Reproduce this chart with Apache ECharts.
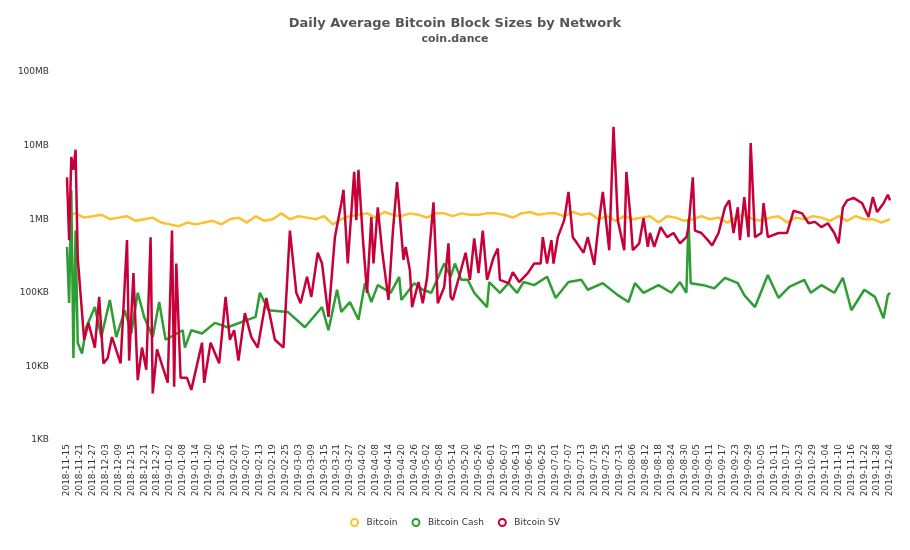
<!DOCTYPE html>
<html>
<head>
    <meta charset="utf-8">
    <title></title>
    <script src="https://cdn.jsdelivr.net/npm/echarts@6/dist/echarts.min.js"></script>
    <style>
        body{ margin: 0; }
        #chart{ width: 910px; height: 550px; }
    </style>
</head>
<body>
<div id="chart"></div>
<script>
    // day list, 2018-11-15 .. 2019-12-04
    var dates = [];
    var start = Date.UTC(2018, 10, 15);
    for (var i = 0; i <= 384; i++) {
        dates.push(new Date(start + i * 86400000).toISOString().slice(0, 10));
    }

    // Bitcoin, KB, one reading every 4 days
    var btcStep = 4;
    var btcValues = [
        1150,1200,1050,1100,1150,1000,1050,1100,950,1000,
        1050,900,850,800,900,850,900,950,850,1000,
        1050,900,1100,950,1000,1200,1000,1100,1050,1000,
        1100,850,1000,1100,1150,1200,1050,1250,1150,1100,
        1200,1150,1050,1200,1200,1100,1200,1150,1150,1200,
        1200,1150,1050,1200,1250,1150,1200,1200,1100,1250,
        1150,1200,1000,1100,950,1100,1000,1050,1100,900,
        1100,1050,950,1000,1100,1000,1050,900,1050,1150,
        1000,950,1050,1100,900,1050,1000,1100,1050,950,
        1100,950,1100,1000,1000,900,1000
    ];

    // Bitcoin Cash, [day index, KB]
    var bchValues = [
        [0,420],[1,73],[2,2500],[3,13],[4,700],[5,21],[7,15],[9,34],[13,64],[16,25],
        [20,80],[23,25],[27,58],[30,28],[33,100],[36,47],[40,25],[43,75],[46,23],[54,31],
        [55,18],[58,31],[63,28],[69,39],[75,34],[88,47],[90,100],[94,58],[103,55],[111,34],
        [119,64],[122,31],[126,110],[128,55],[132,75],[136,43],[139,135],[142,75],[145,127],[151,100],
        [155,165],[156,80],[162,135],[166,110],[170,100],[176,250],[179,165],[181,250],[184,150],[187,150],
        [190,100],[196,64],[197,140],[202,100],[206,135],[210,100],[213,140],[218,127],[224,165],[228,85],
        [234,140],[240,150],[243,110],[250,135],[257,93],[262,75],[265,135],[269,100],[276,127],[282,100],
        [286,140],[289,100],[290,1000],[291,135],[297,127],[302,115],[307,160],[313,135],[316,93],[321,64],
        [327,175],[332,85],[337,120],[344,150],[347,100],[352,127],[358,100],[362,160],[366,58],[372,110],
        [377,88],[381,45],[383,93],[384,100]
    ];

    // Bitcoin SV, [day index, KB]
    var bsvValues = [
        [0,3700],[1,520],[2,7000],[3,4700],[4,8800],[5,300],[8,23],[10,39],[13,18],[15,88],
        [17,11],[19,13],[21,25],[25,11],[28,520],[29,12],[31,185],[33,6.5],[35,18],[37,9],
        [39,570],[40,4.3],[42,17],[47,6],[49,700],[50,5.3],[51,250],[53,7],[56,7],[58,4.8],
        [63,21],[64,6],[67,21],[71,11],[74,88],[76,23],[78,31],[80,12],[83,53],[86,25],
        [89,18],[93,85],[97,23],[101,18],[104,700],[107,100],[109,72],[112,165],[114,88],[117,350],
        [119,250],[122,47],[124,250],[125,570],[128,1650],[129,2500],[131,250],[134,4400],[135,970],[136,4700],
        [138,570],[140,100],[142,1070],[143,250],[145,1450],[147,380],[150,80],[152,650],[154,3200],[157,280],
        [158,420],[160,200],[161,64],[164,140],[166,72],[168,160],[171,1700],[173,72],[176,120],[178,470],
        [179,88],[180,80],[186,350],[188,150],[190,550],[192,185],[194,700],[196,150],[199,300],[201,400],
        [202,150],[206,135],[208,190],[211,140],[215,185],[218,250],[221,250],[222,570],[224,250],[226,520],
        [227,250],[229,570],[232,970],[234,2350],[236,570],[238,470],[241,350],[243,570],[246,240],[248,830],
        [250,2350],[253,380],[255,18000],[257,970],[260,380],[261,4400],[263,970],[264,380],[267,470],[269,1030],
        [271,420],[272,650],[274,420],[277,780],[280,570],[283,650],[286,470],[289,570],[290,780],[292,3700],
        [293,700],[296,650],[299,520],[301,440],[304,650],[307,1450],[309,1800],[311,650],[313,1450],[314,520],
        [316,2000],[318,570],[319,10800],[321,570],[324,650],[325,1650],[327,570],[332,650],[336,650],[339,1300],
        [343,1200],[346,880],[349,920],[352,780],[355,880],[358,650],[360,470],[362,1450],[364,1800],[367,1950],
        [371,1650],[374,1070],[376,2000],[378,1250],[381,1650],[383,2150],[384,1800]
    ];

    var sizeLabels = {1: '1KB', 10: '10KB', 100: '100KB', 1000: '1MB', 10000: '10MB', 100000: '100MB'};

    function toPairs(list) {
        return list.map(function (p) { return [dates[p[0]], p[1]]; });
    }
    var btcData = btcValues.map(function (v, k) { return [dates[k * btcStep], v]; });

    function lineSeries(name, color, data) {
        return {
            name: name,
            type: 'line',
            data: data,
            symbol: 'none',
            lineStyle: { color: color, width: 2.5 },
            itemStyle: { color: color }
        };
    }

    var chart = echarts.init(document.getElementById('chart'));
    chart.setOption({
        animation: false,
        textStyle: { fontFamily: 'DejaVu Sans' },
        title: {
            text: 'Daily Average Bitcoin Block Sizes by Network',
            subtext: 'coin.dance',
            left: 'center',
            top: 12,
            itemGap: 4,
            textStyle: { fontSize: 13, fontWeight: 'bold', color: '#555' },
            subtextStyle: { fontSize: 11, fontWeight: 'bold', color: '#555' }
        },
        legend: {
            bottom: 18,
            icon: 'emptyCircle',
            itemWidth: 14,
            itemHeight: 7,
            itemGap: 14,
            textStyle: { fontSize: 9, color: '#333' },
            data: ['Bitcoin', 'Bitcoin Cash', 'Bitcoin SV']
        },
        grid: { left: 67, right: 20, top: 72, bottom: 110 },
        xAxis: {
            type: 'category',
            data: dates,
            boundaryGap: false,
            axisLine: { show: false },
            axisTick: { show: false },
            axisLabel: { interval: 5, rotate: 90, fontSize: 9, color: '#333', margin: 4 }
        },
        yAxis: {
            type: 'log',
            logBase: 10,
            min: 1,
            max: 100000,
            axisLine: { show: false },
            axisTick: { show: false },
            splitLine: { show: false },
            axisLabel: {
                fontSize: 9, color: '#333', margin: 18,
                formatter: function (v) { return sizeLabels[Math.round(v)] || ''; }
            }
        },
        series: [
            lineSeries('Bitcoin', '#fbc12e', btcData),
            lineSeries('Bitcoin Cash', '#2e9d33', toPairs(bchValues)),
            lineSeries('Bitcoin SV', '#c70039', toPairs(bsvValues))
        ]
    });
</script>
</body>
</html>
